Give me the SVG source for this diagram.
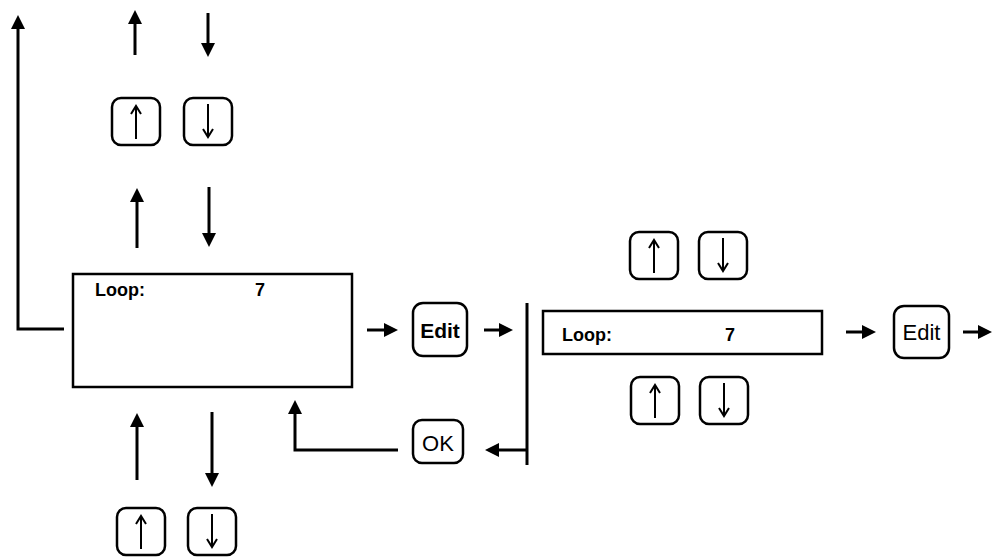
<svg xmlns="http://www.w3.org/2000/svg" width="992" height="557" viewBox="0 0 992 557">
<style>
.conn{fill:none;stroke:#000;stroke-width:3;marker-end:url(#ah)}
.line{fill:none;stroke:#000;stroke-width:3}
.box{fill:#fff;stroke:#000;stroke-width:2.5}
.key{fill:#fff;stroke:#000;stroke-width:2.5}
.ka{fill:none;stroke:#000;stroke-width:2}
.lbl{font-family:"Liberation Sans",Arial,sans-serif;font-weight:bold;font-size:18px;fill:#000}
.kt{font-family:"Liberation Sans",Arial,sans-serif;fill:#000;text-anchor:middle}
</style>
<defs>
<marker id="ah" markerUnits="userSpaceOnUse" markerWidth="15" markerHeight="14" viewBox="0 0 15 14" refX="3" refY="7" orient="auto">
<path d="M0,0 L14,7 L0,14 z" fill="#000"/>
</marker>
<g id="upk">
<rect x="0" y="0" width="48" height="47" rx="9" class="key"/>
<path d="M24,41 V8 M19,16 L24,8 L29,16" class="ka"/>
</g>
<g id="dnk">
<rect x="0" y="0" width="48" height="47" rx="9" class="key"/>
<path d="M24,6 V39 M19,31 L24,39 L29,31" class="ka"/>
</g>
</defs>

<g id="connectors">
<path d="M64,329 H18 V26" class="conn"/>
<path d="M135,55 V21" class="conn"/>
<path d="M208,13 V46" class="conn"/>
<path d="M137,248 V199" class="conn"/>
<path d="M209,187 V236" class="conn"/>
<path d="M137,480 V424" class="conn"/>
<path d="M212,412 V476" class="conn"/>
<path d="M398,450 H295 V411" class="conn"/>
<path d="M527,450 H496" class="conn"/>
<path d="M367,330 H387" class="conn"/>
<path d="M484,330 H502" class="conn"/>
<path d="M846,332 H865" class="conn"/>
<path d="M963,332 H981" class="conn"/>
<path d="M527,303 V465" class="line"/>
</g>

<g id="display1">
<rect x="73" y="274" width="279" height="113" class="box"/>
<text x="95" y="296" class="lbl">Loop:</text>
<text x="255" y="296" class="lbl">7</text>
</g>

<g id="display2">
<rect x="543" y="311" width="279" height="43" class="box"/>
<text x="562" y="341" class="lbl">Loop:</text>
<text x="725" y="341" class="lbl">7</text>
</g>

<g id="key-up-top"><use href="#upk" x="112" y="98"/></g>
<g id="key-down-top"><use href="#dnk" x="184" y="98"/></g>
<g id="key-up-bottom"><use href="#upk" x="117" y="508"/></g>
<g id="key-down-bottom"><use href="#dnk" x="188" y="508"/></g>
<g id="key-up-right-top"><use href="#upk" x="630" y="232"/></g>
<g id="key-down-right-top"><use href="#dnk" x="699" y="232"/></g>
<g id="key-up-right-bottom"><use href="#upk" x="631" y="377"/></g>
<g id="key-down-right-bottom"><use href="#dnk" x="700" y="377"/></g>

<g id="key-edit1">
<rect x="413" y="303" width="54" height="53" rx="10" class="key"/>
<text x="440" y="338" class="kt" font-size="21" font-weight="bold">Edit</text>
</g>
<g id="key-edit2">
<rect x="894" y="306" width="55" height="52" rx="10" class="key"/>
<text x="921.5" y="340" class="kt" font-size="22">Edit</text>
</g>
<g id="key-ok">
<rect x="413" y="420" width="50" height="43" rx="9" class="key"/>
<text x="438" y="451" class="kt" font-size="22">OK</text>
</g>
</svg>
